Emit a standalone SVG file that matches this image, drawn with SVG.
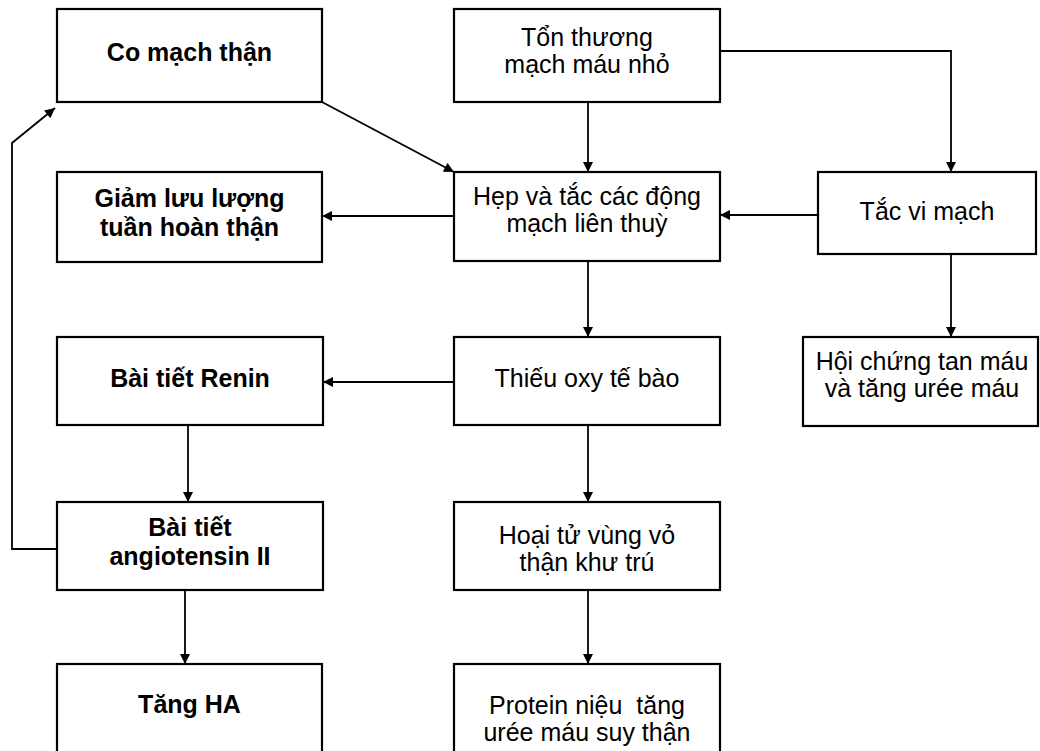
<svg xmlns="http://www.w3.org/2000/svg" width="1040" height="751" viewBox="0 0 1040 751">
<style>
.box{fill:#fff;stroke:#000;stroke-width:2.2}
.t{font-family:"Liberation Sans",Arial,sans-serif;font-size:25px;fill:#000;text-anchor:middle}
.b{font-weight:bold}
.c{fill:none;stroke:#000;stroke-width:1.8}
</style>
<defs>
<marker id="ah" viewBox="0 0 10 10" refX="10" refY="5" markerWidth="12" markerHeight="10" markerUnits="userSpaceOnUse" orient="auto"><path d="M0,0 L10,5 L0,10 z" fill="#000"/></marker>
</defs>
<rect width="1040" height="751" fill="#fff"/>
<g id="connectors">
<line class="c" x1="322" y1="102" x2="454" y2="172" marker-end="url(#ah)"/>
<line class="c" x1="588" y1="102" x2="588" y2="172" marker-end="url(#ah)"/>
<polyline class="c" points="720,51 951,51 951,172" marker-end="url(#ah)"/>
<line class="c" x1="818" y1="215" x2="720" y2="215" marker-end="url(#ah)"/>
<line class="c" x1="454" y1="216" x2="322" y2="216" marker-end="url(#ah)"/>
<line class="c" x1="588" y1="261" x2="588" y2="337" marker-end="url(#ah)"/>
<line class="c" x1="951" y1="254" x2="951" y2="337" marker-end="url(#ah)"/>
<line class="c" x1="454" y1="382" x2="323" y2="382" marker-end="url(#ah)"/>
<line class="c" x1="588" y1="425" x2="588" y2="502" marker-end="url(#ah)"/>
<line class="c" x1="188" y1="425" x2="188" y2="502" marker-end="url(#ah)"/>
<line class="c" x1="185" y1="590" x2="185" y2="664" marker-end="url(#ah)"/>
<line class="c" x1="588" y1="590" x2="588" y2="664" marker-end="url(#ah)"/>
<polyline class="c" points="57,549 12,549 12,143 55,108" marker-end="url(#ah)"/>
</g>
<g id="co-mach-than"><rect class="box" x="57" y="9" width="265" height="93"/><text class="t b" x="189.5" y="61">Co mạch thận</text></g>
<g id="ton-thuong"><rect class="box" x="454" y="9" width="266" height="93"/><text class="t" x="587" y="46">Tổn thương</text><text class="t" x="587" y="73">mạch máu nhỏ</text></g>
<g id="giam-luu-luong"><rect class="box" x="57" y="172" width="265" height="90"/><text class="t b" x="189.5" y="207">Giảm lưu lượng</text><text class="t b" x="189.5" y="236">tuần hoàn thận</text></g>
<g id="hep-tac"><rect class="box" x="454" y="172" width="266" height="89"/><text class="t" x="587" y="205">Hẹp và tắc các động</text><text class="t" x="587" y="232">mạch liên thuỳ</text></g>
<g id="tac-vi-mach"><rect class="box" x="818" y="172" width="218" height="82"/><text class="t" x="927" y="220">Tắc vi mạch</text></g>
<g id="bai-tiet-renin"><rect class="box" x="57" y="337" width="266" height="88"/><text class="t b" x="190" y="387">Bài tiết Renin</text></g>
<g id="thieu-oxy"><rect class="box" x="454" y="337" width="266" height="88"/><text class="t" x="587" y="387">Thiếu oxy tế bào</text></g>
<g id="hoi-chung"><rect class="box" x="803" y="337" width="235" height="89"/><text class="t" x="922" y="370">Hội chứng tan máu</text><text class="t" x="922" y="397">và tăng urée máu</text></g>
<g id="angiotensin"><rect class="box" x="57" y="502" width="266" height="88"/><text class="t b" x="190" y="536">Bài tiết</text><text class="t b" x="190" y="565">angiotensin II</text></g>
<g id="hoai-tu"><rect class="box" x="454" y="502" width="266" height="88"/><text class="t" x="587" y="544">Hoại tử vùng vỏ</text><text class="t" x="587" y="571">thận khư trú</text></g>
<g id="tang-ha"><rect class="box" x="57" y="664" width="265" height="100"/><text class="t b" x="189.5" y="713">Tăng HA</text></g>
<g id="protein"><rect class="box" x="454" y="664" width="266" height="100"/><text class="t" x="587" y="714" xml:space="preserve">Protein niệu  tăng</text><text class="t" x="587" y="741">urée máu suy thận</text></g>
</svg>
